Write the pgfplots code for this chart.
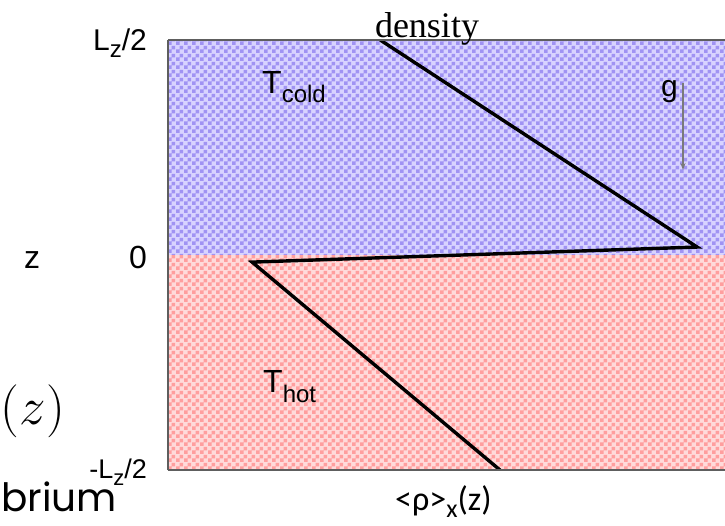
\RequirePackage{fix-cm}
\documentclass[border=0pt]{standalone}
\usepackage{pgfplots}
\pgfplotsset{compat=1.18}
\usepackage{fontspec}
\setmainfont{Liberation Sans}
\newfontfamily\seriffont{Liberation Serif}
\newfontfamily\labelfont{Carlito}
\newfontfamily\handfont{Poppins}
\usetikzlibrary{patterns,arrows.meta}

% fine checkerboard used to shade the two layers
\pgfdeclarepatternformonly{checker}{\pgfpointorigin}{\pgfpoint{8pt}{8pt}}{\pgfpoint{8pt}{8pt}}{%
  \pgfpathrectangle{\pgfpointorigin}{\pgfpoint{4pt}{4pt}}%
  \pgfpathrectangle{\pgfpoint{4pt}{4pt}}{\pgfpoint{4pt}{4pt}}%
  \pgfusepath{fill}}

\definecolor{coldlight}{HTML}{D8D3FF}
\definecolor{colddark}{HTML}{A093F3}
\definecolor{hotlight}{HTML}{FFDADA}
\definecolor{hotdark}{HTML}{FF9E9E}
\definecolor{axisgray}{HTML}{5E5E5E}
\definecolor{arrowgray}{HTML}{7A7A7A}

\newcommand{\fs}[1]{\fontsize{#1pt}{#1pt}\selectfont}
\newcommand{\Lz}[1]{L\raisebox{-7pt}{\fs{#1}z}/2}

% mean density profile across the two layers (z in units of L_z/2)
\pgfplotstableread{
x      z
0.381  1.000
0.950  0.037
0.151 -0.033
0.596 -1.000
}\profile

\begin{document}
\begin{tikzpicture}[x=1pt,y=1pt]
\useasboundingbox (0,0) rectangle (725,-525);
\begin{axis}[
  at={(168pt,-470pt)}, anchor=south west,
  scale only axis, width=557pt, height=430pt,
  xmin=0, xmax=1, ymin=-1, ymax=1,
  axis x line*=box, axis y line*=left,
  axis line style={draw=axisgray, line width=2pt},
  axis on top,
  xtick=\empty,
  ytick={-1,0,1},
  yticklabels={{\fs{27}\raisebox{2pt}{-\Lz{22}}},{\fs{32}\raisebox{-3pt}{0}},{\fs{30}\Lz{24}}},
  major tick length=0pt,
  yticklabel style={anchor=base east, inner sep=0pt, xshift=-21pt, yshift=-10pt},
]
\addplot[draw=none, fill=coldlight, postaction={pattern=checker, pattern color=colddark}]
  coordinates {(0,1) (1,1)} \closedcycle;
\addplot[draw=none, fill=hotlight, postaction={pattern=checker, pattern color=hotdark}]
  coordinates {(0,-1) (1,-1)} \closedcycle;
\addplot[black, line width=3.4pt, line join=miter] table[x=x, y=z] {\profile};
\end{axis}

% annotations
\node[anchor=base, inner sep=0pt] at (32,-268) {\fs{32}z};
\node[anchor=base, inner sep=0pt] at (427,-37) {\seriffont\fs{36}density};
\node[anchor=base west, inner sep=0pt] at (262,-93) {\fs{32}T\raisebox{-9pt}{\fs{24}cold}};
\node[anchor=base west, inner sep=0pt] at (263,-392) {\fs{32}T\raisebox{-10pt}{\fs{24}hot}};
\node[anchor=base west, inner sep=0pt] at (661,-96) {\fs{30}g};
\draw[arrowgray, line width=1.2pt, -{Stealth[length=7pt,width=5pt]}] (683,-83) -- (683,-170);
\node[anchor=base west, inner sep=0pt] at (395,-510) {\labelfont\fs{34}<ρ>\raisebox{-7pt}{\fs{26}x}(z)};
\node[anchor=base east, inner sep=0pt] at (65,-424) {\fs{53}$(z)$};
\node[anchor=base west, inner sep=0pt] at (1,-511) {\handfont\fs{39}brium};
\end{tikzpicture}
\end{document}
